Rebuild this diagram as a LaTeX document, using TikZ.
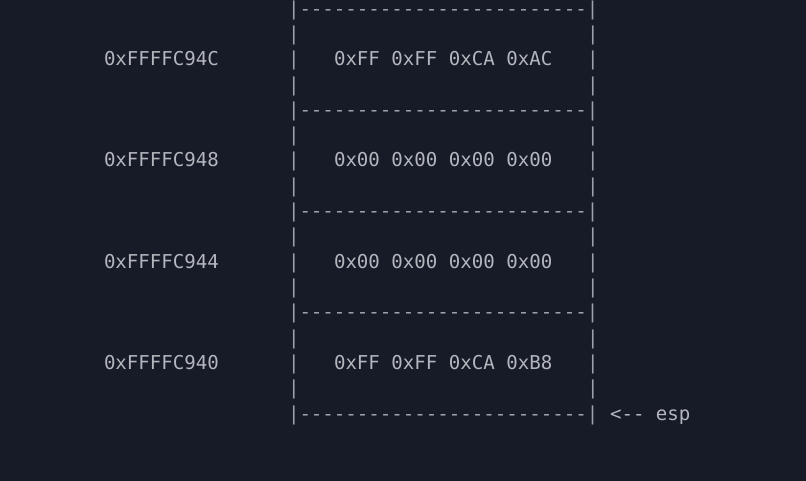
\documentclass[tikz,border=0pt]{standalone}
\usepackage{fontspec}
\setmonofont{DejaVu Sans Mono}
\definecolor{bg}{HTML}{171A27}
\definecolor{fg}{HTML}{B2B6BD}
\definecolor{rule}{HTML}{9AA2AD}
\newcommand{\cx}[1]{\fpeval{104+#1*11.5}}
\newcommand{\ry}[1]{\fpeval{15.2+#1*25.3}}
\tikzset{
  txt/.style={anchor=base west, inner sep=0pt, outer sep=0pt, text=fg,
    font=\ttfamily\fontsize{19.1pt}{25pt}\selectfont},
  rl/.style={txt, text=rule}
}
\begin{document}
\begin{tikzpicture}[x=1pt,y=-1pt]
\useasboundingbox (0,0) rectangle (806,481);
\fill[bg] (0,0) rectangle (806,481);
\clip (0,0) rectangle (806,481);
% dash lines
\foreach \i/\n in {0/d0,4/d1,8/d2,12/d3,16/d4}{
  \node[rl] (\n) at (\cx{16},\ry{\i}) {|-------------------------|};
}
% pipe-only rows
\foreach \i in {1,3,5,7,9,11,13,15}{
  \node[rl] (pl\i) at (\cx{16},\ry{\i}) {|};
  \node[rl] (pr\i) at (\cx{42},\ry{\i}) {|};
}
% data rows
\foreach \i/\a/\v in {2/0xFFFFC94C/0xFF 0xFF 0xCA 0xAC,
                      6/0xFFFFC948/0x00 0x00 0x00 0x00,
                      10/0xFFFFC944/0x00 0x00 0x00 0x00,
                      14/0xFFFFC940/0xFF 0xFF 0xCA 0xB8}{
  \node[txt] (addr\i) at (\cx{0},\ry{\i}) {\a};
  \node[rl] (pl\i) at (\cx{16},\ry{\i}) {|};
  \node[txt] (val\i) at (\cx{20},\ry{\i}) {\v};
  \node[rl] (pr\i) at (\cx{42},\ry{\i}) {|};
}
\node[txt] (esp) at (\cx{44},\ry{16}) {<-- esp};
\end{tikzpicture}
\end{document}
